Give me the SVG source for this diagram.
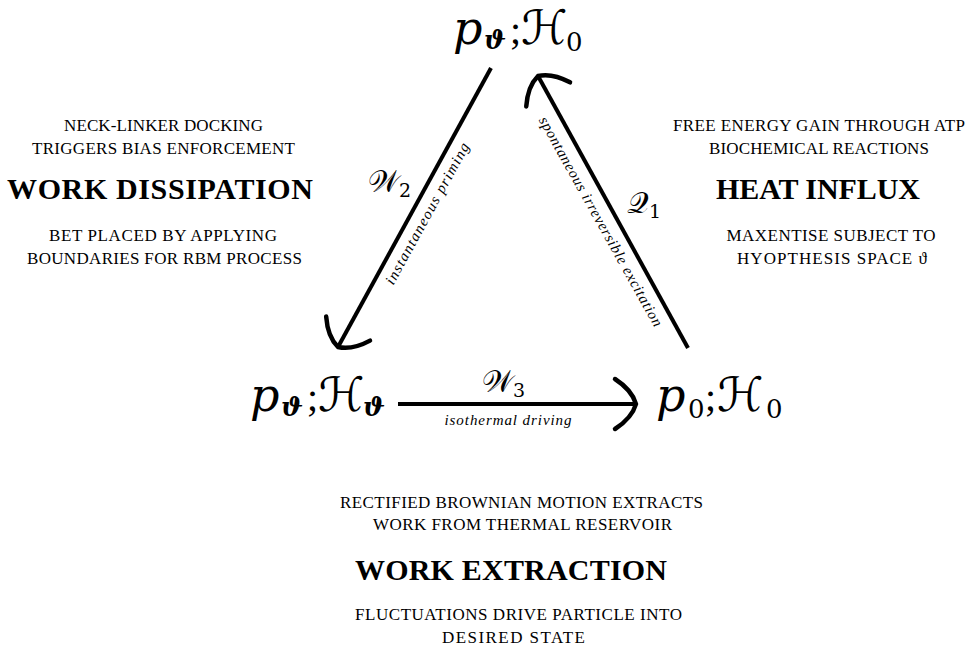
<svg xmlns="http://www.w3.org/2000/svg" width="973" height="648" viewBox="0 0 973 648">
<style>
.cap{font-family:"Liberation Serif",serif;font-size:17px;text-anchor:middle;fill:#000}
.title{font-family:"Liberation Serif",serif;font-size:30px;font-weight:bold;text-anchor:middle;fill:#000}
.lbl{font-family:"Liberation Serif",serif;font-style:italic;font-size:15px;text-anchor:middle;fill:#000}
.pv{font-family:"DejaVu Serif",serif;font-style:italic;font-size:46px}
.sb{font-family:"DejaVu Serif",serif;font-style:italic;font-weight:bold;font-size:26px}
.sc{font-family:"Liberation Serif",serif;font-size:40px}
.hh{font-family:"DejaVu Serif","DejaVu Sans",serif;font-size:47px}
.s0{font-family:"DejaVu Serif",serif;font-size:26px}
.ww{font-family:"DejaVu Serif","DejaVu Sans",serif;font-size:30px}
.ws{font-family:"DejaVu Serif",serif;font-size:19px}
.edge{stroke:#000;stroke-width:4;fill:none}
</style>
<defs>
<marker id="ah" markerUnits="userSpaceOnUse" viewBox="-30 -30 40 60" refX="0" refY="0" markerWidth="40" markerHeight="60" orient="auto">
<path d="M-21,-25 Q-4,-14 0,0 Q-4,14 -21,25" fill="none" stroke="#000" stroke-width="4.5" stroke-linecap="round" stroke-linejoin="round"/>
</marker>
</defs>

<g id="connectors">
<g id="e-top-left">
<line class="edge" x1="491" y1="68" x2="338" y2="347" marker-end="url(#ah)"/>
<text class="ww" x="368" y="192">𝒲<tspan class="ws" dy="5">2</tspan></text>
<text class="lbl" x="428" y="218" textLength="159" transform="rotate(-61.3 428 214)">instantaneous priming</text>
</g>
<g id="e-right-top">
<line class="edge" x1="688" y1="348" x2="538" y2="76" marker-end="url(#ah)"/>
<text class="ww" x="627" y="213">𝒬<tspan class="ws" dy="5">1</tspan></text>
<text class="lbl" x="600" y="226" textLength="238" transform="rotate(60.8 600 222)">spontaneous irreversible excitation</text>
</g>
<g id="e-left-right">
<line class="edge" x1="398" y1="404" x2="636" y2="404" marker-end="url(#ah)"/>
<text class="ww" x="482" y="392">𝒲<tspan class="ws" dy="5">3</tspan></text>
<text class="lbl" x="508" y="425" textLength="127">isothermal driving</text>
</g>
</g>

<g id="n-top">
<text y="44"><tspan class="pv" x="453">p</tspan><tspan class="sb" x="484" dy="5">ϑ</tspan><tspan class="sc" x="510" dy="-5">;</tspan><tspan class="hh" x="521">ℋ</tspan><tspan class="s0" x="566" dy="7">0</tspan></text>
</g>
<g id="n-left">
<text y="411"><tspan class="pv" x="250">p</tspan><tspan class="sb" x="281" dy="5">ϑ</tspan><tspan class="sc" x="307" dy="-5">;</tspan><tspan class="hh" x="318">ℋ</tspan><tspan class="sb" x="363" dy="5">ϑ</tspan></text>
</g>
<g id="n-right">
<text y="411"><tspan class="pv" x="656">p</tspan><tspan class="s0" x="688" dy="7">0</tspan><tspan class="sc" x="705" dy="-7">;</tspan><tspan class="hh" x="717">ℋ</tspan><tspan class="s0" x="766" dy="7">0</tspan></text>
</g>

<g id="work-dissipation">
<text class="cap" x="163.5" y="131" textLength="199">NECK-LINKER DOCKING</text>
<text class="cap" x="163.5" y="154" textLength="263">TRIGGERS BIAS ENFORCEMENT</text>
<text class="title" x="160" y="199" textLength="306">WORK DISSIPATION</text>
<text class="cap" x="163" y="241" textLength="228">BET PLACED BY APPLYING</text>
<text class="cap" x="164.5" y="264" textLength="275">BOUNDARIES FOR RBM PROCESS</text>
</g>
<g id="heat-influx">
<text class="cap" x="819" y="131" textLength="292">FREE ENERGY GAIN THROUGH ATP</text>
<text class="cap" x="819" y="154" textLength="220">BIOCHEMICAL REACTIONS</text>
<text class="title" x="818" y="199" textLength="204">HEAT INFLUX</text>
<text class="cap" x="831" y="241" textLength="209">MAXENTISE SUBJECT TO</text>
<text class="cap" x="832" y="264" textLength="190">HYOPTHESIS SPACE ϑ</text>
</g>
<g id="work-extraction">
<text class="cap" x="521.5" y="508" textLength="363">RECTIFIED BROWNIAN MOTION EXTRACTS</text>
<text class="cap" x="522.5" y="530" textLength="299">WORK FROM THERMAL RESERVOIR</text>
<text class="title" x="511" y="580" textLength="312">WORK EXTRACTION</text>
<text class="cap" x="518.5" y="620" textLength="327">FLUCTUATIONS DRIVE PARTICLE INTO</text>
<text class="cap" x="513.5" y="643" textLength="143">DESIRED STATE</text>
</g>
</svg>
